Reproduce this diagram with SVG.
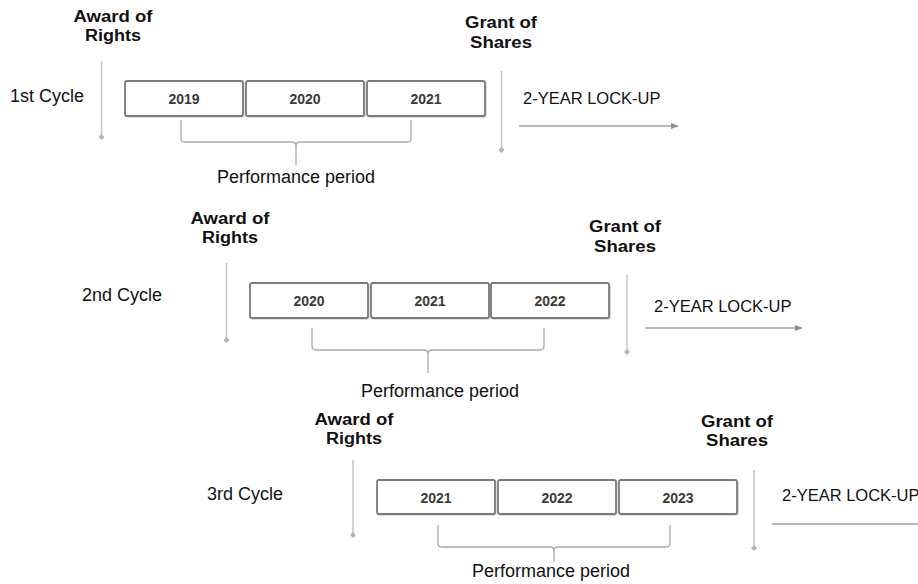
<svg xmlns="http://www.w3.org/2000/svg" width="918" height="584" viewBox="0 0 918 584">
<defs>
<style>
.lbl{font-family:"Liberation Sans",Arial,sans-serif;font-size:18px;fill:#111}
.lock{font-family:"Liberation Sans",Arial,sans-serif;font-size:16.5px;fill:#111}
.bold{font-family:"Liberation Sans",Arial,sans-serif;font-size:16px;font-weight:bold;fill:#111;text-anchor:middle}
.yr{font-family:"Liberation Sans",Arial,sans-serif;font-size:14px;font-weight:bold;fill:#3a3a3a;text-anchor:middle}
.box{fill:#fff;stroke:#7a7a7a;stroke-width:1.8}
.shadow{fill:none;stroke:#d4d4d4;stroke-width:1.5}
.vline{stroke:#c4c4c4;stroke-width:1.5;fill:none}
.brace{stroke:#a8a8a8;stroke-width:1.3;fill:none}
.arrow{stroke:#a0a0a0;stroke-width:1.5;fill:none}
</style>
<marker id="dot" viewBox="0 0 8 8" refX="4" refY="4" markerWidth="6" markerHeight="6" markerUnits="userSpaceOnUse">
<path d="M4 0 L8 4 L4 8 L0 4 Z" fill="#b5b5b5"/>
</marker>
<marker id="ah" viewBox="0 0 10 10" refX="9" refY="5" markerWidth="8" markerHeight="8" markerUnits="userSpaceOnUse" orient="auto">
<path d="M0 1 L10 5 L0 9 Z" fill="#909090"/>
</marker>
</defs>
<rect width="918" height="584" fill="#fff"/>

<g id="cycle1">
<text class="lbl" x="10" y="102">1st Cycle</text>
<g id="award1"><text class="bold" x="113" y="22" textLength="79" lengthAdjust="spacingAndGlyphs">Award of</text><text class="bold" x="113" y="41" textLength="56" lengthAdjust="spacingAndGlyphs">Rights</text></g>
<g id="grant1"><text class="bold" x="501" y="28" textLength="72" lengthAdjust="spacingAndGlyphs">Grant of</text><text class="bold" x="501" y="48" textLength="62" lengthAdjust="spacingAndGlyphs">Shares</text></g>
<g id="y2019a"><rect class="shadow" x="126" y="82" width="118" height="35" rx="2"/><rect class="box" x="125" y="81" width="118" height="35" rx="2"/><text class="yr" x="184" y="104">2019</text></g>
<g id="y2020a"><rect class="shadow" x="247" y="82" width="118" height="35" rx="2"/><rect class="box" x="246" y="81" width="118" height="35" rx="2"/><text class="yr" x="305" y="104">2020</text></g>
<g id="y2021a"><rect class="shadow" x="368" y="82" width="118" height="35" rx="2"/><rect class="box" x="367" y="81" width="118" height="35" rx="2"/><text class="yr" x="426" y="104">2021</text></g>
<text class="lbl" x="296" y="183" text-anchor="middle">Performance period</text>
<text class="lock" x="523" y="104">2-YEAR LOCK-UP</text>
</g>

<g id="cycle2">
<text class="lbl" x="82" y="301">2nd Cycle</text>
<g id="award2"><text class="bold" x="230" y="224" textLength="79" lengthAdjust="spacingAndGlyphs">Award of</text><text class="bold" x="230" y="243" textLength="56" lengthAdjust="spacingAndGlyphs">Rights</text></g>
<g id="grant2"><text class="bold" x="625" y="232" textLength="72" lengthAdjust="spacingAndGlyphs">Grant of</text><text class="bold" x="625" y="252" textLength="62" lengthAdjust="spacingAndGlyphs">Shares</text></g>
<g id="y2020b"><rect class="shadow" x="251" y="284" width="118" height="35" rx="2"/><rect class="box" x="250" y="283" width="118" height="35" rx="2"/><text class="yr" x="309" y="306">2020</text></g>
<g id="y2021b"><rect class="shadow" x="372" y="284" width="118" height="35" rx="2"/><rect class="box" x="371" y="283" width="118" height="35" rx="2"/><text class="yr" x="430" y="306">2021</text></g>
<g id="y2022b"><rect class="shadow" x="492" y="284" width="118" height="35" rx="2"/><rect class="box" x="491" y="283" width="118" height="35" rx="2"/><text class="yr" x="550" y="306">2022</text></g>
<text class="lbl" x="440" y="397" text-anchor="middle">Performance period</text>
<text class="lock" x="654" y="312">2-YEAR LOCK-UP</text>
</g>

<g id="cycle3">
<text class="lbl" x="207" y="500">3rd Cycle</text>
<g id="award3"><text class="bold" x="354" y="425" textLength="79" lengthAdjust="spacingAndGlyphs">Award of</text><text class="bold" x="354" y="444" textLength="56" lengthAdjust="spacingAndGlyphs">Rights</text></g>
<g id="grant3"><text class="bold" x="737" y="427" textLength="72" lengthAdjust="spacingAndGlyphs">Grant of</text><text class="bold" x="737" y="446" textLength="62" lengthAdjust="spacingAndGlyphs">Shares</text></g>
<g id="y2021c"><rect class="shadow" x="378" y="481" width="118" height="34" rx="2"/><rect class="box" x="377" y="480" width="118" height="34" rx="2"/><text class="yr" x="436" y="503">2021</text></g>
<g id="y2022c"><rect class="shadow" x="499" y="481" width="118" height="34" rx="2"/><rect class="box" x="498" y="480" width="118" height="34" rx="2"/><text class="yr" x="557" y="503">2022</text></g>
<g id="y2023c"><rect class="shadow" x="620" y="481" width="118" height="34" rx="2"/><rect class="box" x="619" y="480" width="118" height="34" rx="2"/><text class="yr" x="678" y="503">2023</text></g>
<text class="lbl" x="551" y="577" text-anchor="middle">Performance period</text>
<text class="lock" x="782" y="501">2-YEAR LOCK-UP</text>
</g>

<g id="connectors">
<line class="vline" x1="101.5" y1="61" x2="101.5" y2="137" marker-end="url(#dot)"/>
<line class="vline" x1="501.5" y1="71" x2="501.5" y2="150" marker-end="url(#dot)"/>
<path class="brace" d="M181 120 V138 Q181 142 185 142 H292 Q296 142 296 146 V165 M296 146 Q296 142 300 142 H407 Q411 142 411 138 V120"/>
<line class="arrow" x1="519" y1="126" x2="678" y2="126" marker-end="url(#ah)"/>

<line class="vline" x1="226.5" y1="263" x2="226.5" y2="340" marker-end="url(#dot)"/>
<line class="vline" x1="627" y1="275" x2="627" y2="352" marker-end="url(#dot)"/>
<path class="brace" d="M312 328 V346 Q312 350 316 350 H424 Q428 350 428 354 V373 M428 354 Q428 350 432 350 H540 Q544 350 544 346 V328"/>
<line class="arrow" x1="645" y1="328" x2="802" y2="328" marker-end="url(#ah)"/>

<line class="vline" x1="353" y1="460" x2="353" y2="535" marker-end="url(#dot)"/>
<line class="vline" x1="754" y1="470" x2="754" y2="548" marker-end="url(#dot)"/>
<path class="brace" d="M438 525 V543 Q438 547 442 547 H550 Q554 547 554 551 V562 M554 551 Q554 547 558 547 H666 Q670 547 670 543 V525"/>
<line class="arrow" x1="772" y1="524" x2="918" y2="524"/>
</g>
</svg>
